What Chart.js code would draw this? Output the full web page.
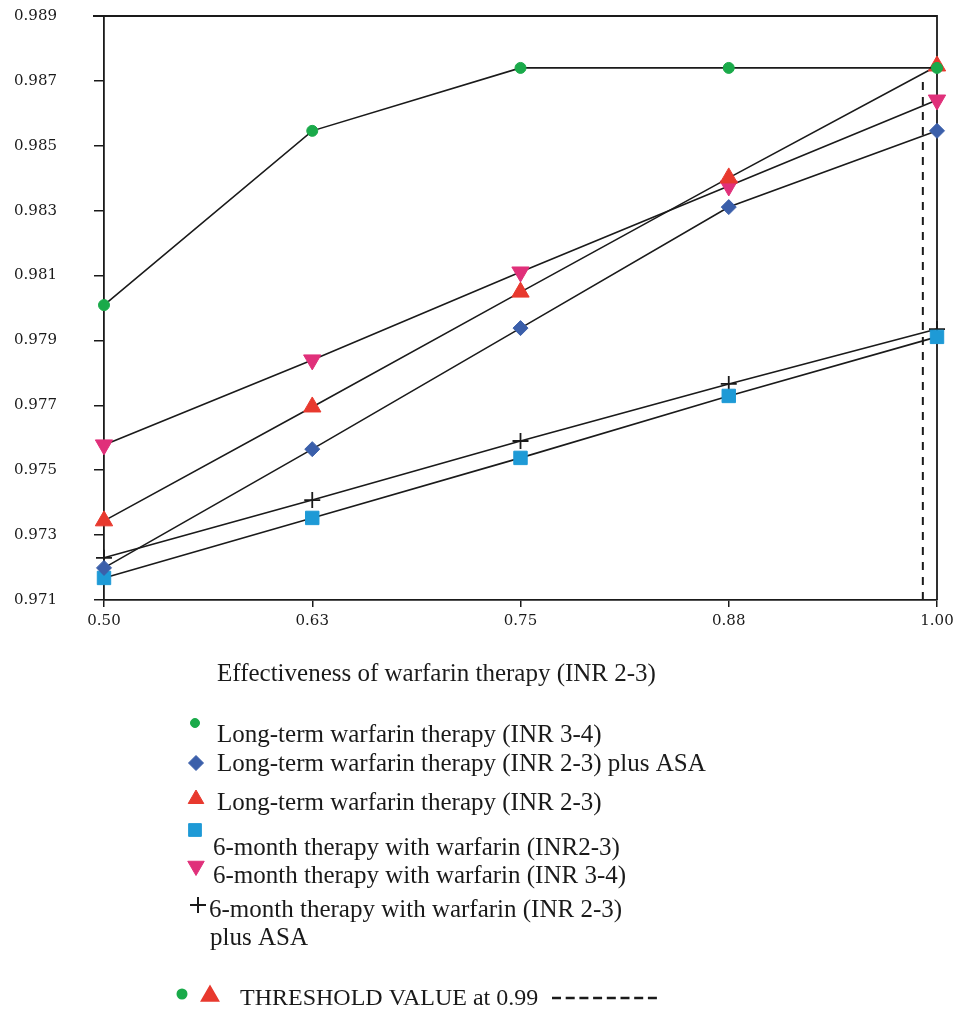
<!DOCTYPE html>
<html>
<head>
<meta charset="utf-8">
<script src="https://cdn.jsdelivr.net/npm/chart.js@4.4.1/dist/chart.umd.min.js"></script>
<style>
html,body{margin:0;padding:0;background:#fff;}
#wrap{position:relative;width:956px;height:1009px;}
</style>
</head>
<body>
<div id="wrap"><canvas id="c" width="956" height="1009"></canvas></div>
<script>
// ---- data ----
const xValues = [0.5, 0.625, 0.75, 0.875, 1.0];
const xTickLabels = ["0.50", "0.63", "0.75", "0.88", "1.00"];
const yTickValues = [0.971, 0.973, 0.975, 0.977, 0.979, 0.981, 0.983, 0.985, 0.987, 0.989];
const yTickLabels = ["0.971", "0.973", "0.975", "0.977", "0.979", "0.981", "0.983", "0.985", "0.987", "0.989"];

const seriesNames = [
  "Long-term warfarin therapy (INR 3-4)",
  "Long-term warfarin therapy (INR 2-3) plus ASA",
  "Long-term warfarin therapy (INR 2-3)",
  "6-month therapy with warfarin (INR2-3)",
  "6-month therapy with warfarin (INR 3-4)",
  "6-month therapy with warfarin (INR 2-3) plus ASA"
];
const longTermINR34 = [0.98009, 0.98546, 0.98740, 0.98740, 0.98740];
const longTermINR23ASA = [0.97199, 0.97565, 0.97938, 0.98311, 0.98546];
const longTermINR23 = [0.97344, 0.97695, 0.98049, 0.98401, 0.98746];
const sixMonthINR23 = [0.97168, 0.97353, 0.97538, 0.97729, 0.97911];
const sixMonthINR34 = [0.97578, 0.97840, 0.98111, 0.98376, 0.98641];
const sixMonthINR23ASA = [0.97230, 0.97408, 0.97590, 0.97766, 0.97935];

const thresholdX = 0.9915;
const thresholdY = [0.971, 0.9871];
const thresholdLabel = "THRESHOLD VALUE at 0.99";
const xTitle = "Effectiveness of warfarin therapy (INR 2-3)";

// ---- styles ----
const TICKFONT = "'DejaVu Serif', serif";
const FONT = "'Liberation Serif', 'Times New Roman', serif";
const INK = "#1a1a1a";
const GREEN = "#1aaa4a", BLUE = "#3b5faa", RED = "#e8392e", CYAN = "#1e9ad6", PINK = "#e0307a";

const markerStyles = [
  {pointStyle: 'circle', radius: 5.5, color: GREEN, rotation: 0},
  {pointStyle: 'rectRot', radius: 7.5, color: BLUE, rotation: 0},
  {pointStyle: 'triangle', radius: 10, color: RED, rotation: 0},
  {pointStyle: 'rect', radius: 9.5, color: CYAN, rotation: 0},
  {pointStyle: 'triangle', radius: 10, color: PINK, rotation: 180},
  {pointStyle: 'cross', radius: 8, color: INK, rotation: 0}
];
const seriesData = [longTermINR34, longTermINR23ASA, longTermINR23, sixMonthINR23, sixMonthINR34, sixMonthINR23ASA];

const datasets = seriesData.map((arr, i) => {
  const m = markerStyles[i];
  return {
    label: seriesNames[i],
    data: arr.map((v, j) => ({x: xValues[j], y: v})),
    borderColor: INK,
    borderWidth: 1.6,
    pointStyle: m.pointStyle,
    pointRadius: m.radius,
    pointRotation: m.rotation,
    pointBackgroundColor: m.color,
    pointBorderColor: m.color,
    pointBorderWidth: m.pointStyle === 'cross' ? 1.8 : 1,
    tension: 0,
    fill: false,
    clip: false
  };
});
datasets.unshift({
  label: 'threshold',
  data: thresholdY.map(v => ({x: thresholdX, y: v})),
  borderColor: INK,
  borderWidth: 2,
  borderDash: [8, 7],
  pointRadius: 0,
  fill: false
});

// frame (top/right) + axis title + legend plugin
const framePlugin = {
  id: 'frame',
  beforeDatasetsDraw(chart) {
    const {ctx, chartArea: a} = chart;
    ctx.save();
    ctx.strokeStyle = INK;
    ctx.lineWidth = 1.8;
    ctx.beginPath();
    ctx.moveTo(a.left - 11, a.top);
    ctx.lineTo(a.right, a.top);
    ctx.lineTo(a.right, a.bottom);
    ctx.stroke();
    ctx.restore();
  },
  afterDraw(chart) {
    const ctx = chart.ctx;
    const H = Chart.helpers;
    ctx.save();
    ctx.fillStyle = INK;
    ctx.textBaseline = 'alphabetic';
    ctx.textAlign = 'left';
    ctx.font = "25px " + FONT;
    ctx.fillText(xTitle, 217, 681);
    const items = [
      {mx: 195, my: 723, r: 4.5, tx: 217, ty: 742, text: seriesNames[0]},
      {mx: 196, my: 763, r: 7.5, tx: 217, ty: 771, text: seriesNames[1]},
      {mx: 196, my: 799, r: 9, tx: 217, ty: 810, text: seriesNames[2]},
      {mx: 195, my: 830, r: 9, tx: 213, ty: 855, text: seriesNames[3]},
      {mx: 196, my: 866, r: 9.5, tx: 213, ty: 883, text: seriesNames[4]},
      {mx: 198, my: 905, r: 8, tx: 209, ty: 917, text: "6-month therapy with warfarin (INR 2-3)"},
    ];
    items.forEach((it, i) => {
      const m = markerStyles[i];
      ctx.fillStyle = m.color;
      ctx.strokeStyle = m.color;
      ctx.lineWidth = m.pointStyle === 'cross' ? 2 : 1;
      H.drawPoint(ctx, {pointStyle: m.pointStyle, radius: it.r, rotation: m.rotation, borderWidth: ctx.lineWidth}, it.mx, it.my);
      ctx.fillStyle = INK;
      ctx.fillText(it.text, it.tx, it.ty);
    });
    ctx.fillText("plus ASA", 210, 945);
    // threshold legend
    ctx.fillStyle = GREEN; ctx.strokeStyle = GREEN;
    H.drawPoint(ctx, {pointStyle: 'circle', radius: 4.5, rotation: 0, borderWidth: 1}, 182, 994);
    ctx.fillStyle = RED; ctx.strokeStyle = RED;
    H.drawPoint(ctx, {pointStyle: 'triangle', radius: 9.5, rotation: 0, borderWidth: 1}, 210, 996);
    ctx.fillStyle = INK;
    ctx.font = "24px " + FONT;
    ctx.fillText(thresholdLabel, 240, 1005);
    ctx.strokeStyle = INK;
    ctx.lineWidth = 2.5;
    ctx.setLineDash([9, 4.7]);
    ctx.beginPath();
    ctx.moveTo(552, 998);
    ctx.lineTo(658, 998);
    ctx.stroke();
    ctx.restore();
  }
};

new Chart(document.getElementById('c'), {
  type: 'line',
  data: {datasets},
  options: {
    responsive: false,
    animation: false,
    events: [],
    layout: {autoPadding: false, padding: {left: 14, top: 16, right: 19, bottom: 374}},
    plugins: {legend: {display: false}, tooltip: {enabled: false}},
    scales: {
      x: {
        type: 'linear',
        min: 0.5,
        max: 1.0,
        afterBuildTicks(scale) { scale.ticks = xValues.map(v => ({value: v})); },
        afterFit(scale) { scale.paddingLeft = 0; scale.paddingRight = 0; scale.paddingTop = 0; scale.paddingBottom = 0; },
        ticks: {
          callback: (v, i) => xTickLabels[i],
          color: INK,
          font: {family: TICKFONT, size: 15},
          padding: 5,
          maxRotation: 0
        },
        grid: {drawOnChartArea: false, tickLength: 7, color: INK, lineWidth: 1.5},
        border: {display: true, color: INK, width: 1.8}
      },
      y: {
        type: 'linear',
        min: 0.971,
        max: 0.989,
        afterBuildTicks(scale) { scale.ticks = yTickValues.map(v => ({value: v})); },
        afterFit(scale) { scale.width = 90; scale.paddingLeft = 0; scale.paddingRight = 0; scale.paddingTop = 0; scale.paddingBottom = 0; },
        ticks: {
          callback: (v, i) => yTickLabels[i],
          color: INK,
          font: {family: TICKFONT, size: 15},
          padding: 37
        },
        grid: {drawOnChartArea: false, tickLength: 10, color: INK, lineWidth: 1.5},
        border: {display: true, color: INK, width: 1.8}
      }
    }
  },
  plugins: [framePlugin]
});
</script>
</body>
</html>
